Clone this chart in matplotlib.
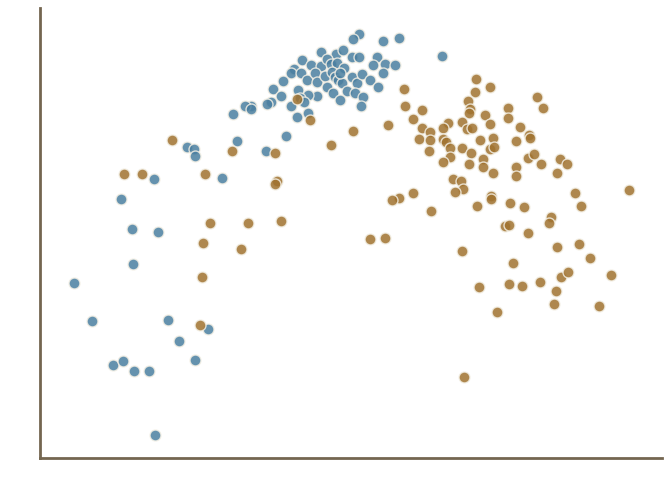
import numpy as np
import matplotlib.pyplot as plt

# two groups of points, positions (x grows right, y grows down)
blue_x = [74, 92, 113, 123, 134, 149, 155, 168, 179, 195, 208, 133, 132, 158, 121, 154,
          187, 194, 195, 222, 237, 266, 286,
          359, 353, 383, 399, 321, 336, 343, 352, 359, 377, 373, 385, 395, 383,
          302, 311, 321, 327, 331, 337, 344, 294, 291, 283, 273, 281, 271, 267,
          251, 245, 251, 233, 291, 298, 297, 301, 307, 315, 317, 325, 332, 335,
          327, 338, 342, 340, 352, 347, 333, 357, 362, 370, 378, 355, 363, 361,
          340, 317, 308, 300, 308, 304, 442]
blue_y = [283, 321, 365, 361, 371, 371, 435, 320, 341, 360, 329, 264, 229, 232, 199, 179,
          147, 149, 156, 178, 141, 151, 136,
          34, 39, 41, 38, 52, 54, 50, 57, 57, 57, 65, 64, 65, 73,
          60, 65, 66, 59, 64, 63, 68, 69, 73, 81, 89, 96, 102, 104,
          106, 106, 109, 114, 106, 90, 117, 73, 80, 73, 82, 76, 72, 77,
          87, 80, 83, 73, 77, 91, 93, 83, 74, 80, 87, 93, 97, 106,
          100, 96, 95, 98, 113, 102, 56]

brown_x = [172, 124, 142, 205, 232, 275, 277, 275, 210, 248, 281, 203, 241, 202, 200,
           297, 310, 353, 331,
           404, 405, 422, 413, 388,
           476, 490, 475, 468, 470, 469, 537, 543, 508, 508, 485, 490, 520, 529, 530,
           462, 467, 472, 448, 443, 422, 430, 419, 430, 443, 446, 480, 493, 490, 494,
           462, 450, 429, 471, 450, 443, 483, 469, 483, 493, 516, 516, 516, 528, 534,
           541, 560, 567, 557, 453, 461, 463, 455, 413, 399, 392, 431, 477, 491, 491,
           510, 524, 551, 549, 575, 581, 629, 505, 509, 528, 385, 370, 462, 557, 579,
           590, 513, 479, 497, 509, 522, 540, 556, 554, 561, 568, 599, 611, 464]
brown_y = [140, 174, 174, 174, 151, 153, 181, 184, 223, 223, 221, 243, 249, 277, 325,
           99, 120, 131, 145,
           89, 106, 110, 119, 125,
           79, 87, 92, 101, 109, 113, 97, 108, 108, 118, 115, 124, 127, 135, 138,
           122, 129, 128, 123, 128, 128, 132, 139, 140, 139, 142, 140, 138, 149, 147,
           148, 148, 151, 153, 157, 162, 159, 164, 167, 173, 141, 167, 176, 158, 154,
           164, 159, 164, 173, 179, 181, 189, 192, 193, 198, 200, 211, 206, 196, 199,
           203, 207, 217, 223, 193, 206, 190, 226, 225, 233, 238, 239, 251, 247, 244,
           258, 263, 287, 312, 284, 286, 282, 291, 304, 277, 272, 306, 275, 377]

fig = plt.figure(figsize=(6.72, 4.88), dpi=100)
ax = fig.add_axes([40 / 672, 30 / 488, 622 / 672, 450 / 488])

ax.scatter(blue_x, blue_y, s=62, color='#4a7fa0', alpha=0.85,
           edgecolors='#f3efe4', linewidths=1.0, zorder=3)
ax.scatter(brown_x, brown_y, s=62, color='#a0722f', alpha=0.85,
           edgecolors='#f3efe4', linewidths=1.0, zorder=3)

ax.set_xlim(40, 662)
ax.set_ylim(458, 8)
ax.set_xticks([])
ax.set_yticks([])
for side in ['top', 'right']:
    ax.spines[side].set_visible(False)
for side in ['left', 'bottom']:
    ax.spines[side].set_color('#746650')
    ax.spines[side].set_linewidth(2)

fig.savefig('out.png', dpi=100)
